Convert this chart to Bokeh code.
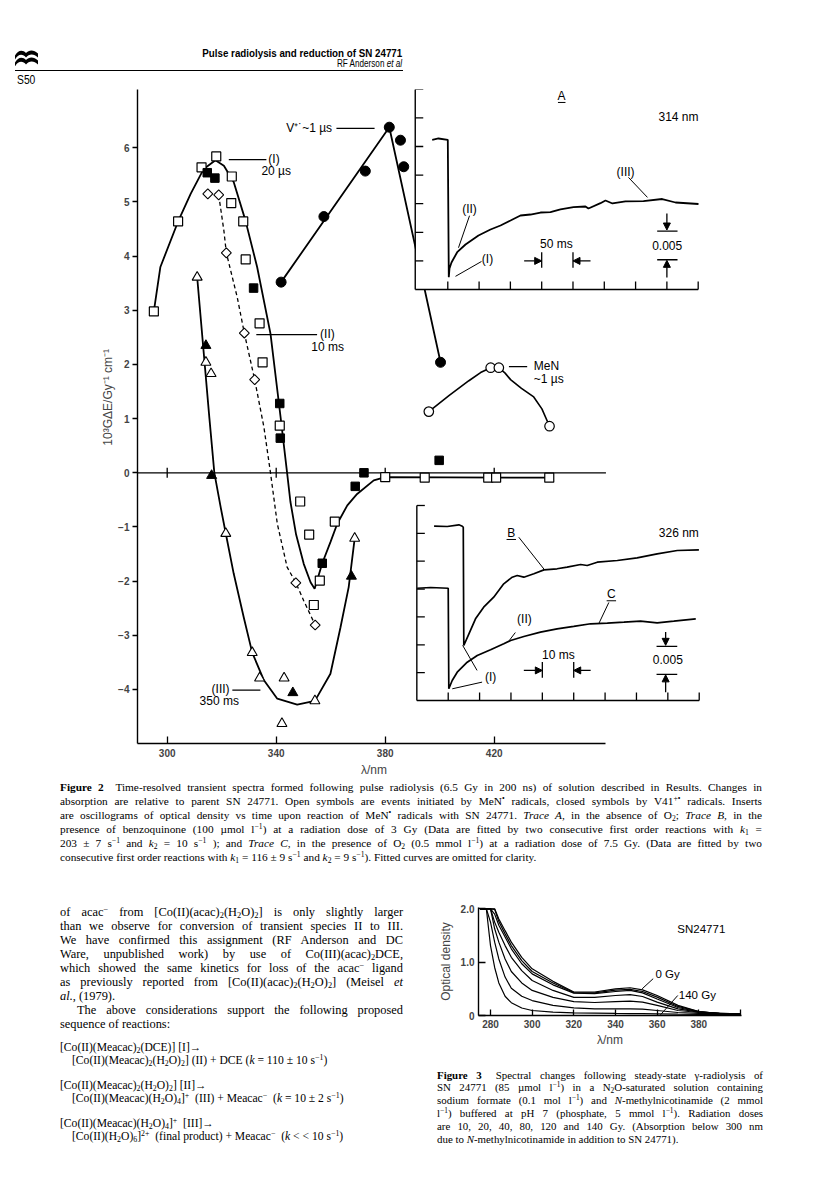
import math
from bokeh.plotting import figure
from bokeh.models import Range1d, FixedTicker, Arrow, NormalHead, Div
from bokeh.layouts import column, row
from bokeh.core.properties import value
from bokeh.embed import file_html
from bokeh.resources import INLINE

SANS = "Liberation Sans"
SERIF = "Liberation Serif"

# ------------------------------------------------------------------ Figure 2 data
WL_TICKS = [300, 340, 380, 420]
G_TICKS = [-4, -3, -2, -1, 0, 1, 2, 3, 4, 5, 6]

# open squares (I) 20 us
sqo_wl = [295.1, 304.0, 312.6, 318.0, 323.7, 323.5, 327.9, 328.8, 333.9, 335.0, 341.3,
          348.8, 352.1, 353.8, 356.0, 361.5, 380.0, 394.5, 417.8, 420.7, 440.2]
sqo_g = [2.98, 4.64, 5.64, 5.84, 5.47, 4.98, 4.64, 3.94, 2.76, 2.04, 0.87,
         -0.53, -1.14, -2.44, -1.99, -0.90, -0.08, -0.09, -0.09, -0.09, -0.09]
# closed squares
sqf_wl = [314.7, 317.5, 331.7, 341.3, 341.5, 356.9, 369.0, 372.2, 399.8]
sqf_g = [5.54, 5.44, 3.41, 1.28, 0.64, -1.67, -0.25, 0.00, 0.23]
# fitted curve (I)
fit1_wl = [295.1, 297.5, 304.0, 308.6, 313.4, 317.7, 320.8, 324.4, 328.7, 333.0, 337.9,
           341.6, 344.0, 345.2, 347.3, 350.1, 352.6, 354.1, 356.9, 359.9, 362.4, 366.1,
           369.7, 375.8, 380.0, 440.2]
fit1_g = [2.98, 3.80, 4.64, 5.15, 5.61, 5.77, 5.67, 5.37, 4.66, 3.80, 2.57,
          1.03, 0.00, -0.53, -1.14, -1.68, -2.02, -2.14, -1.67, -1.28, -0.94, -0.60,
          -0.39, -0.14, -0.08, -0.09]
# open diamonds (II) 10 ms
dia_wl = [314.9, 318.9, 321.7, 328.3, 332.1, 347.2, 354.3]
dia_g = [5.15, 5.13, 4.06, 2.58, 1.72, -2.03, -2.81]
fit2_wl = [318.9, 320.8, 321.7, 325.7, 328.3, 332.1, 335.5, 337.9, 340.4, 344.0, 347.2, 350.1, 354.3]
fit2_g = [5.13, 4.47, 4.06, 3.24, 2.58, 1.72, 0.84, 0.00, -0.94, -1.74, -2.03, -2.36, -2.81]
# open / closed triangles (III) 350 ms
trio_wl = [311.0, 314.2, 316.1, 321.5, 331.2, 333.9, 342.9, 342.1, 354.2, 368.8]
trio_g = [3.61, 2.04, 1.83, -1.12, -3.32, -3.79, -3.79, -4.63, -4.21, -1.21]
trif_wl = [314.2, 316.3, 346.1, 367.6]
trif_g = [2.35, -0.05, -4.06, -1.91]
fit3_wl = [311.0, 315.5, 317.3, 319.6, 321.5, 324.4, 328.1, 331.2, 335.5, 340.4, 347.7,
           354.2, 359.9, 363.6, 366.6, 368.8]
fit3_g = [3.61, 1.00, 0.00, -0.63, -1.12, -1.86, -2.67, -3.32, -3.83, -4.17, -4.28,
          -4.21, -3.71, -2.85, -2.11, -1.21]
# closed circles V41+. ~1 us
vc_wl = [341.8, 357.5, 372.7, 381.5, 385.6, 386.8, 400.3]
vc_g = [3.52, 4.73, 5.57, 6.38, 6.14, 5.65, 2.04]
vfit_wl = [341.8, 381.5, 400.3]
vfit_g = [3.52, 6.38, 2.04]
# open circles MeN. ~1 us
mc_wl = [396.0, 418.7, 421.7, 440.3]
mc_g = [1.13, 1.94, 1.94, 0.86]
mfit_wl = [396.0, 403.5, 410.7, 415.0, 418.7, 421.7, 424.0, 426.0, 430.0, 434.5, 437.5, 440.3]
mfit_g = [1.13, 1.43, 1.70, 1.85, 1.94, 1.94, 1.84, 1.72, 1.56, 1.40, 1.18, 0.86]

# insert A (314 nm): time / ms and optical density
A_T_TICKS = [0, 50, 100, 150, 200, 250, 300, 350, 400]
A_t = [-24.9, -14.9, 0.0, 1.6, 2.7, 5.9, 15.0, 28.3, 49.0, 68.2, 84.2, 100.2, 116.1, 132.1,
       148.1, 164.0, 180.0, 200.8, 219.9, 224.7, 243.9, 251.9, 263.1, 283.8, 312.6, 342.5,
       363.8, 400.5]
A_od = [0.02617, 0.02640, 0.02617, 0.00215, 0.00367, 0.00472, 0.00652, 0.00787, 0.00944,
        0.01049, 0.01119, 0.01206, 0.01294, 0.01311, 0.01346, 0.01351, 0.01399, 0.01439,
        0.01451, 0.01416, 0.01509, 0.01556, 0.01504, 0.01539, 0.01544, 0.01582, 0.01521,
        0.01495]
# insert B/C (326 nm)
B_T_TICKS = [0, 10, 20, 30, 40, 50, 60, 70, 80]
OD_TICKS = [0.005, 0.010, 0.015, 0.020, 0.025, 0.030, 0.035]
B_t = [-4.5, -0.3, 3.4, 4.5, 4.8, 4.97, 6.6, 8.7, 11.3, 14.5, 17.7, 20.4, 22.0, 24.1, 27.3,
       30.5, 34.7, 37.9, 42.2, 44.3, 47.5, 53.9, 60.2, 66.6, 73.0, 79.9]
B_od = [0.03128, 0.03123, 0.03153, 0.03128, 0.03110, 0.00987, 0.01197, 0.01466, 0.01675,
        0.01854, 0.02094, 0.02213, 0.02243, 0.02213, 0.02274, 0.02345, 0.02364, 0.02393,
        0.02441, 0.02423, 0.02482, 0.02513, 0.02561, 0.02633, 0.02692, 0.02705]
C_t = [-9.9, -5.6, 0.0, 0.19, 1.27, 2.87, 6.06, 9.25, 13.5, 17.7, 19.9, 24.1, 29.4, 34.7,
       40.0, 45.4, 50.7, 56.0, 61.3, 66.6, 71.9, 78.9]
C_od = [0.02015, 0.02028, 0.02015, 0.00210, 0.00359, 0.00508, 0.00687, 0.00808, 0.00910,
        0.01018, 0.01077, 0.01149, 0.01226, 0.01287, 0.01330, 0.01377, 0.01388, 0.01405,
        0.01423, 0.01393, 0.01423, 0.01466]

# ------------------------------------------------------------------ Figure 3 data
F3_X_TICKS = [280, 300, 320, 340, 360, 380, 400]
F3_Y_TICKS = [0, 1, 2]
F3_WL = [275, 278, 280, 282, 284, 287, 290, 295, 300, 310, 320, 330, 340, 347, 353, 360,
         370, 380, 390, 400]
OD_0GY = [2.0, 2.0, 2.0, 2.0, 1.81, 1.59, 1.375, 1.09, 0.875, 0.64, 0.44, 0.44, 0.50, 0.52,
          0.48, 0.375, 0.19, 0.075, 0.038, 0.031]
OD_10GY = [2.0, 2.0, 2.0, 1.99, 1.76, 1.53, 1.31, 1.03, 0.825, 0.61, 0.43, 0.425, 0.475,
           0.49, 0.45, 0.344, 0.17, 0.075, 0.038, 0.031]
OD_20GY = [2.0, 2.0, 2.0, 1.90, 1.69, 1.47, 1.25, 0.97, 0.78, 0.575, 0.42, 0.41, 0.45, 0.47,
           0.425, 0.31, 0.15, 0.069, 0.038, 0.031]
OD_40GY = [2.0, 2.0, 2.0, 1.75, 1.56, 1.31, 1.09, 0.84, 0.656, 0.47, 0.34, 0.34, 0.375,
           0.39, 0.356, 0.25, 0.125, 0.063, 0.038, 0.031]
OD_80GY = [2.0, 2.0, 2.0, 1.625, 1.375, 1.06, 0.825, 0.61, 0.47, 0.34, 0.26, 0.244, 0.26,
           0.27, 0.25, 0.19, 0.094, 0.056, 0.038, 0.031]
OD_120GY = [2.0, 2.0, 1.75, 1.375, 1.06, 0.72, 0.51, 0.36, 0.28, 0.19, 0.144, 0.125, 0.125,
            0.125, 0.12, 0.094, 0.056, 0.038, 0.031, 0.025]
OD_140GY = [2.0, 2.0, 1.31, 0.90, 0.61, 0.36, 0.24, 0.14, 0.094, 0.063, 0.05, 0.044, 0.038,
            0.036, 0.034, 0.031, 0.025, 0.022, 0.020, 0.019]
F3_SERIES = [OD_0GY, OD_10GY, OD_20GY, OD_40GY, OD_80GY, OD_120GY, OD_140GY]


def minus(v):
    return str(v) if v >= 0 else "\u2212" + str(-v)


def txt(fig, x, y, s, align="left", size="12px", xr="default", yr="default", style="normal"):
    fig.text(x=[x], y=[y], text=[s], text_font=value(SANS), text_font_size=size,
             text_align=align, text_baseline="middle", text_color="black",
             text_font_style=style, x_range_name=xr, y_range_name=yr)


def seg(fig, x0, y0, x1, y1, xr="default", yr="default", w=1.2):
    fig.segment(x0=[x0], y0=[y0], x1=[x1], y1=[y1], line_color="black", line_width=w,
                x_range_name=xr, y_range_name=yr)


def arrow(fig, x0, y0, x1, y1, xr, yr):
    fig.add_layout(Arrow(end=NormalHead(size=7, fill_color="black", line_color="black",
                                        line_width=1),
                         x_start=x0, y_start=y0, x_end=x1, y_end=y1, line_width=1.3,
                         line_color="black", x_range_name=xr, y_range_name=yr))


# ------------------------------------------------------------------ Figure 2
p = figure(width=800, height=694, output_backend="svg", toolbar_location=None,
           x_range=Range1d(289.1, 495.7), y_range=Range1d(-4.997, 7.076),
           min_border_left=129, min_border_right=108, min_border_top=3, min_border_bottom=37)
p.margin = 0
p.outline_line_color = None
p.grid.visible = False
p.background_fill_color = "white"
p.border_fill_color = "white"

p.xaxis.ticker = FixedTicker(ticks=WL_TICKS)
p.xaxis.bounds = (289.1, 461.0)
p.xaxis.axis_line_width = 1.4
p.xaxis.major_tick_in = 7
p.xaxis.major_tick_out = 0
p.xaxis.major_tick_line_width = 1.3
p.xaxis.minor_tick_line_color = None
p.xaxis.major_label_standoff = 5
p.xaxis.major_label_text_font = SANS
p.xaxis.major_label_text_font_size = "10px"
p.xaxis.major_label_text_font_style = "bold"
# trailing em spaces move the label to the middle of the drawn axis line
p.xaxis.axis_label = "\u03bb/nm" + "\u2003" * 7 + "\u2002"
p.xaxis.axis_label_standoff = 3
p.xaxis.axis_label_text_font = SANS
p.xaxis.axis_label_text_font_size = "12px"
p.xaxis.axis_label_text_font_style = "normal"

p.yaxis.ticker = FixedTicker(ticks=G_TICKS)
p.yaxis.major_label_overrides = {t: minus(t) for t in G_TICKS}
p.yaxis.axis_line_width = 1.4
p.yaxis.major_tick_in = 0
p.yaxis.major_tick_out = 5
p.yaxis.major_tick_line_width = 1.3
p.yaxis.minor_tick_line_color = None
p.yaxis.major_label_standoff = 3
p.yaxis.major_label_text_font = SANS
p.yaxis.major_label_text_font_size = "10px"
p.yaxis.major_label_text_font_style = "bold"
# leading em spaces lift the rotated label to where the original prints it
p.yaxis.axis_label = "\u2003\u2003\u2003\u200910\u00b3G\u0394E/Gy\u207b\u00b9 cm\u207b\u00b9"
p.yaxis.axis_label_standoff = 0
p.yaxis.axis_label_text_font = SANS
p.yaxis.axis_label_text_font_size = "12px"
p.yaxis.axis_label_text_font_style = "normal"

# zero line with its ticks
p.line([289.1, 461.0], [0, 0], line_color="black", line_width=1.3)
p.scatter(WL_TICKS, [0] * len(WL_TICKS), marker="dash", angle=math.pi / 2, size=10,
          line_color="black", line_width=1.3)

# fitted curves
p.line(fit1_wl, fit1_g, line_color="black", line_width=1.8)
p.line(fit2_wl, fit2_g, line_color="black", line_width=1.3, line_dash="4 3")
p.line(fit3_wl, fit3_g, line_color="black", line_width=1.8)
p.line(vfit_wl, vfit_g, line_color="black", line_width=1.8)
p.line(mfit_wl, mfit_g, line_color="black", line_width=1.6)

# points
p.scatter(sqo_wl, sqo_g, marker="square", size=9, fill_color="white", line_color="black", line_width=1.2)
p.scatter(sqf_wl, sqf_g, marker="square", size=8.5, fill_color="black", line_color="black")
p.scatter(dia_wl, dia_g, marker="square", angle=math.pi / 4, size=7, fill_color="white",
          line_color="black", line_width=1.1)
p.scatter(trio_wl, trio_g, marker="triangle", size=10, fill_color="white", line_color="black", line_width=1.1)
p.scatter(trif_wl, trif_g, marker="triangle", size=10, fill_color="black", line_color="black")
p.scatter(vc_wl, vc_g, marker="circle", size=10, fill_color="black", line_color="black")
p.scatter(mc_wl, mc_g, marker="circle", size=9.5, fill_color="white", line_color="black", line_width=1.2)

# curve labels
seg(p, 322.6, 5.78, 336.4, 5.78)
txt(p, 337.1, 5.80, "(I)")
txt(p, 340.0, 5.57, "20 \u00b5s", align="center")
seg(p, 332.7, 2.55, 355.0, 2.55)
txt(p, 358.8, 2.56, "(II)", align="center")
txt(p, 358.9, 2.33, "10 ms", align="center")
txt(p, 360.5, 6.37, "V\u207a\u02d9~1 \u00b5s", align="right")
seg(p, 362.1, 6.36, 376.1, 6.36)
seg(p, 425.4, 1.96, 432.1, 1.96)
txt(p, 434.5, 1.97, "MeN")
txt(p, 434.5, 1.74, "~1 \u00b5s")
txt(p, 319.6, -4.00, "(III)", align="center")
seg(p, 323.9, -4.01, 334.2, -4.01)
txt(p, 319.1, -4.21, "350 ms", align="center")

# ---- inserts (own time and optical-density scales)
p.extra_x_ranges = {"tA": Range1d(-495.7, 403.7), "tB": Range1d(-99.03, 80.41)}
p.extra_y_ranges = {"odA": Range1d(-0.07937, 0.034965), "odB": Range1d(-0.007717, 0.10966)}

for xr, yr, t0, t1, tticks, tlen, odlen in (("tA", "odA", -52.0, 400.0, A_T_TICKS, 12.8, 0.0014),
                                            ("tB", "odB", -10.0, 80.0, B_T_TICKS, 2.55, 0.00144)):
    p.quad(left=[t0 + 0.5 * (tlen / 8)], right=[t1 + 4 * (tlen / 8)], bottom=[0], top=[0.0362],
           fill_color="white", line_color=None, x_range_name=xr, y_range_name=yr)
    p.line([t0, t0], [0, 0.035], line_color="black", line_width=1.4, x_range_name=xr, y_range_name=yr)
    p.line([t0, t1], [0, 0], line_color="black", line_width=1.4, x_range_name=xr, y_range_name=yr)
    p.segment(x0=[t0] * len(OD_TICKS), y0=OD_TICKS, x1=[t0 + tlen] * len(OD_TICKS), y1=OD_TICKS,
              line_color="black", line_width=1.3, x_range_name=xr, y_range_name=yr)
    p.segment(x0=tticks, y0=[0] * len(tticks), x1=tticks, y1=[odlen] * len(tticks),
              line_color="black", line_width=1.3, x_range_name=xr, y_range_name=yr)

p.line(A_t, A_od, line_color="black", line_width=1.8, x_range_name="tA", y_range_name="odA")
p.line(B_t, B_od, line_color="black", line_width=1.7, x_range_name="tB", y_range_name="odB")
p.line(C_t, C_od, line_color="black", line_width=1.7, x_range_name="tB", y_range_name="odB")

# insert A labels
A = dict(xr="tA", yr="odA")
txt(p, 181.6, 0.0339, "A", align="center", **A)
seg(p, 176.0, 0.0327, 188.0, 0.0327, w=1.0, **A)
txt(p, 368.5, 0.0301, "314 nm", align="center", **A)
txt(p, 284.0, 0.0206, "(III)", align="center", **A)
seg(p, 288.6, 0.0196, 319.0, 0.0161, w=1.0, **A)
txt(p, 34.7, 0.0141, "(II)", align="center", **A)
seg(p, 34.7, 0.0129, 17.1, 0.0073, w=1.0, **A)
txt(p, 63.4, 0.0053, "(I)", align="center", **A)
seg(p, 53.8, 0.0049, 12.3, 0.0023, w=1.0, **A)
txt(p, 173.6, 0.0079, "50 ms", align="center", **A)
arrow(p, 122.0, 0.0050, 150.0, 0.0050, "tA", "odA")
arrow(p, 228.0, 0.0050, 200.0, 0.0050, "tA", "odA")
seg(p, 150.0, 0.0038, 150.0, 0.0065, w=1.3, **A)
seg(p, 200.0, 0.0038, 200.0, 0.0065, w=1.3, **A)
txt(p, 350.5, 0.0077, "0.005", align="center", **A)
arrow(p, 350.0, 0.0133, 350.0, 0.0104, "tA", "odA")
arrow(p, 350.0, 0.0021, 350.0, 0.0051, "tA", "odA")
seg(p, 334.5, 0.0102, 367.0, 0.0102, w=1.3, **A)
seg(p, 334.5, 0.0052, 367.0, 0.0052, w=1.3, **A)

# insert B/C labels
B = dict(xr="tB", yr="odB")
txt(p, 73.5, 0.0301, "326 nm", align="center", **B)
txt(p, 20.1, 0.0301, "B", align="center", **B)
seg(p, 18.6, 0.0289, 21.6, 0.0289, w=1.0, **B)
seg(p, 22.5, 0.0293, 30.5, 0.0236, w=1.0, **B)
txt(p, 52.0, 0.0191, "C", align="center", **B)
seg(p, 50.5, 0.0179, 53.5, 0.0179, w=1.0, **B)
seg(p, 51.2, 0.0176, 48.0, 0.0138, w=1.0, **B)
txt(p, 24.3, 0.0146, "(II)", align="center", **B)
seg(p, 21.4, 0.0122, 19.5, 0.0108, w=1.0, **B)
txt(p, 13.5, 0.0042, "(I)", align="center", **B)
seg(p, 10.8, 0.0033, 1.3, 0.0021, w=1.0, **B)
seg(p, 9.2, 0.0054, 4.6, 0.0099, w=1.0, **B)
txt(p, 35.1, 0.0082, "10 ms", align="center", **B)
arrow(p, 24.1, 0.0054, 30.0, 0.0054, "tB", "odB")
arrow(p, 45.4, 0.0054, 40.0, 0.0054, "tB", "odB")
seg(p, 30.0, 0.0041, 30.0, 0.0069, w=1.3, **B)
seg(p, 40.0, 0.0041, 40.0, 0.0069, w=1.3, **B)
txt(p, 70.0, 0.0074, "0.005", align="center", **B)
arrow(p, 69.3, 0.0123, 69.3, 0.0099, "tB", "odB")
arrow(p, 69.3, 0.0015, 69.3, 0.0046, "tB", "odB")
seg(p, 66.4, 0.0097, 73.0, 0.0097, w=1.3, **B)
seg(p, 66.4, 0.0047, 73.0, 0.0047, w=1.3, **B)

# ------------------------------------------------------------------ Figure 3
p3 = figure(width=400, height=194, output_backend="svg", toolbar_location=None,
            x_range=Range1d(274.24, 400.5), y_range=Range1d(0, 2.024),
            min_border_left=70, min_border_right=67, min_border_top=39, min_border_bottom=47)
p3.margin = 0
p3.outline_line_color = None
p3.grid.visible = False
p3.xaxis.ticker = FixedTicker(ticks=F3_X_TICKS)
p3.xaxis.major_label_overrides = {400: ""}
p3.xaxis.major_tick_in = 6
p3.xaxis.major_tick_out = 0
p3.yaxis.ticker = FixedTicker(ticks=F3_Y_TICKS)
p3.yaxis.major_label_overrides = {0: "0", 1: "1.0", 2: "2.0"}
p3.yaxis.major_tick_in = 7
p3.yaxis.major_tick_out = 0
for ax in (p3.xaxis, p3.yaxis):
    ax.axis_line_width = 1.4
    ax.major_tick_line_width = 1.3
    ax.minor_tick_line_color = None
    ax.major_label_text_font = SANS
    ax.major_label_text_font_size = "10px"
    ax.major_label_text_font_style = "bold"
    ax.major_label_standoff = 4
    ax.axis_label_text_font = SANS
    ax.axis_label_text_font_size = "12px"
    ax.axis_label_text_font_style = "normal"
p3.xaxis.axis_label = "\u03bb/nm"
p3.xaxis.axis_label_standoff = 2
p3.yaxis.axis_label = "Optical density"
p3.yaxis.axis_label_standoff = 5
for od in F3_SERIES:
    p3.line(F3_WL, od, line_color="black", line_width=1.2)
txt(p3, 381.2, 1.62, "SN24771", align="center", size="11.5px")
txt(p3, 359.2, 0.78, "0 Gy", size="11.5px")
seg(p3, 352.8, 0.50, 358.1, 0.69, w=1.0)
txt(p3, 370.4, 0.375, "140 Gy", size="11.5px")
seg(p3, 369.9, 0.375, 361.6, 0.013, w=1.0)

# ------------------------------------------------------------------ texts
SUP = '<sup style="font-size:0.68em;line-height:0;vertical-align:0.5em">{}</sup>'
SUB = '<sub style="font-size:0.68em;line-height:0;vertical-align:-0.25em">{}</sub>'


def sup(s):
    return SUP.format(s)


def sub(s):
    return SUB.format(s)


def lines_html(lines, left, top, step, width, size, lh, justify_last=True, indents=None):
    out = []
    for i, ln in enumerate(lines):
        just = justify_last and i < len(lines) - 1
        ind = indents[i] if indents else 0
        style = ("position:absolute;left:%.1fpx;top:%.1fpx;width:%.1fpx;font-family:'%s';"
                 "font-size:%.1fpx;line-height:%.1fpx;color:black;%s" %
                 (left + ind, top + i * step, width - ind, SERIF, size, lh,
                  "text-align:justify;text-align-last:justify;" if just else "text-align:left;white-space:nowrap;"))
        out.append('<div style="%s">%s</div>' % (style, ln))
    return "".join(out)


header_html = (
    '<div style="position:relative;width:800px;height:78px;">'
    '<svg style="position:absolute;left:7px;top:42px" width="23" height="16" viewBox="0 0 23 16">'
    '<path d="M0 5.5 C3 -0.5, 8 -0.5, 11 3 C14 -0.5, 19 -0.5, 23 3.5 L23 7.5 C19 3.5, 14 3.5, 11 7.5 C8 3.5, 3 3.5, 0 9.5 Z" fill="black"/>'
    '<path d="M0 12.5 C3 6.5, 8 6.5, 11 10 C14 6.5, 19 6.5, 23 10.5 L23 14.5 C19 10.5, 14 10.5, 11 14.5 C8 10.5, 3 10.5, 0 16.5 Z" fill="black"/>'
    '</svg>'
    '<div style="position:absolute;right:406px;top:38.8px;font-family:\'Liberation Sans\';font-weight:bold;'
    'font-size:11.5px;line-height:13px;white-space:nowrap;transform:scaleX(0.85);transform-origin:right center">'
    'Pulse radiolysis and reduction of SN 24771</div>'
    '<div style="position:absolute;right:406px;top:48.5px;font-family:\'Liberation Sans\';'
    'font-size:11px;line-height:13px;white-space:nowrap;transform:scaleX(0.74);transform-origin:right center">'
    'RF Anderson <i>et al</i></div>'
    '<div style="position:absolute;left:7px;top:61.5px;width:388px;height:1.5px;background:black"></div>'
    '<div style="position:absolute;left:9px;top:64.5px;font-family:\'Liberation Sans\';font-size:12px;'
    'line-height:14px;white-space:nowrap;transform:scaleX(0.86);transform-origin:left center">S50</div>'
    '</div>')

cap2_lines = [
    "<b>Figure 2</b>&ensp; Time-resolved transient spectra formed following pulse radiolysis (6.5 Gy in 200 ns) "
    "of solution described in Results. Changes in",
    "absorption are relative to parent SN 24771. Open symbols are events initiated by MeN" + sup("\u2022") +
    " radicals, closed symbols by V41" + sup("+\u2022") + " radicals. Inserts",
    "are oscillograms of optical density vs time upon reaction of MeN" + sup("\u2022") +
    " radicals with SN 24771. <i>Trace A</i>, in the absence of O" + sub("2") + "; <i>Trace B</i>, in the",
    "presence of benzoquinone (100 \u00b5mol l" + sup("\u22121") +
    ") at a radiation dose of 3 Gy (Data are fitted by two consecutive first order reactions with <i>k</i>" +
    sub("1") + " =",
    "203 \u00b1 7 s" + sup("\u22121") + " and <i>k</i>" + sub("2") + " = 10 s" + sup("\u22121") +
    " ); and <i>Trace C</i>, in the presence of O" + sub("2") + " (0.5 mmol l" + sup("\u22121") +
    ") at a radiation dose of 7.5 Gy. (Data are fitted by two",
    "consecutive first order reactions with <i>k</i>" + sub("1") + " = 116 \u00b1 9 s" + sup("\u22121") +
    " and <i>k</i>" + sub("2") + " = 9 s" + sup("\u22121") + "). Fitted curves are omitted for clarity.",
]
cap2_html = ('<div style="position:relative;width:800px;height:88px;">' +
             lines_html(cap2_lines, 52, 0, 14, 702, 11.3, 14) + '</div>')

acac2 = "[Co(II)(acac)" + sub("2") + "(H" + sub("2") + "O)" + sub("2") + "]"
body_lines = [
    "of acac" + sup("\u2212") + " from " + acac2 + " is only slightly larger",
    "than we observe for conversion of transient species II to III.",
    "We have confirmed this assignment (RF Anderson and DC",
    "Ware, unpublished work) by use of Co(III)(acac)" + sub("2") + "DCE,",
    "which showed the same kinetics for loss of the acac" + sup("\u2212") + " ligand",
    "as previously reported from " + acac2 + " (Meisel <i>et</i>",
    "<i>al.</i>, (1979).",
]
body2_lines = [
    "The above considerations support the following proposed",
    "sequence of reactions:",
]
react_lines = [
    "[Co(II)(Meacac)" + sub("2") + "(DCE)] [I]\u2192",
    "[Co(II)(Meacac)" + sub("2") + "(H" + sub("2") + "O)" + sub("2") + "] (II) + DCE (<i>k</i> = 110 \u00b1 10 s" + sup("\u22121") + ")",
    "[Co(II)(Meacac)" + sub("2") + "(H" + sub("2") + "O)" + sub("2") + "] [II]\u2192",
    "[Co(II)(Meacac)(H" + sub("2") + "O)" + sub("4") + "]" + sup("+") + " &nbsp;(III) + Meacac" + sup("\u2212") + " &nbsp;(<i>k</i> = 10 \u00b1 2 s" + sup("\u22121") + ")",
    "[Co(II)(Meacac)(H" + sub("2") + "O)" + sub("4") + "]" + sup("+") + " &nbsp;[III]\u2192",
    "[Co(II)(H" + sub("2") + "O)" + sub("6") + "]" + sup("2+") + " &nbsp;(final product) + Meacac" + sup("\u2212") + " &nbsp;(<i>k</i> &lt; &lt; 10 s" + sup("\u22121") + ")",
]
react_tops = [172.5, 185.5, 210.5, 223.5, 248.5, 261.5]
react_html = ""
for i, ln in enumerate(react_lines):
    react_html += lines_html([ln], 52 + (12 if i % 2 else 0), react_tops[i], 0, 343, 11.6, 14,
                             justify_last=False)

left_html = ('<div style="position:relative;width:400px;height:326px;">' +
             lines_html(body_lines, 52, 37.3, 14, 343, 12.4, 14) +
             lines_html(body2_lines, 52, 135.3, 14, 343, 12.4, 14, indents=[17, 0]) +
             react_html + '</div>')

cap3_lines = [
    "<b>Figure 3</b>&ensp; Spectral changes following steady-state \u03b3-radiolysis of",
    "SN 24771 (85 \u00b5mol l" + sup("\u22121") + ") in a N" + sub("2") + "O-saturated solution containing",
    "sodium formate (0.1 mol l" + sup("\u22121") + ") and <i>N</i>-methylnicotinamide (2 mmol",
    "l" + sup("\u22121") + ") buffered at pH 7 (phosphate, 5 mmol l" + sup("\u22121") + "). Radiation doses",
    "are 10, 20, 40, 80, 120 and 140 Gy. (Absorption below 300 nm",
    "due to <i>N</i>-methylnicotinamide in addition to SN 24771).",
]
cap3_html = ('<div style="position:relative;width:400px;height:132px;">' +
             lines_html(cap3_lines, 29, 6.6, 12.8, 326, 10.9, 12.8) + '</div>')

header = Div(text=header_html, width=800, height=78, margin=0)
cap2 = Div(text=cap2_html, width=800, height=88, margin=0)
left = Div(text=left_html, width=400, height=326, margin=0)
cap3 = Div(text=cap3_html, width=400, height=132, margin=0)

right = column(p3, cap3, width=400, height=326, margin=0, spacing=0)
bottom = row(left, right, width=800, height=326, margin=0, spacing=0)
root = column(header, p, cap2, bottom, width=800, height=1186, margin=(8, 0, 0, 8), spacing=0)

open("out.html", "w").write(file_html(root, INLINE))
